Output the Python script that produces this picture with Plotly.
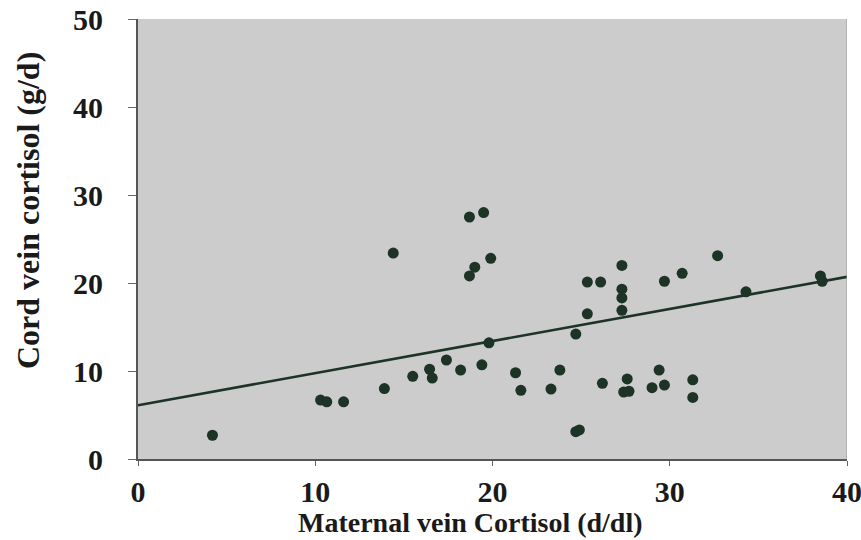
import plotly.graph_objects as go

# Scatter data
maternal = [4.2, 10.3, 10.65, 11.6, 13.9, 14.4, 15.5, 16.45, 16.6, 17.4, 18.2,
            18.7, 19.5, 18.7, 19.0, 19.9, 19.4, 19.8, 21.3, 21.6, 23.3, 23.8,
            24.7, 24.7, 24.9, 25.35, 25.35, 26.1, 26.2, 27.3, 27.3, 27.3, 27.3,
            27.6, 27.4, 27.7, 29.0, 29.4, 29.7, 29.7, 30.7, 31.3, 31.3, 32.7,
            34.3, 38.5, 38.6]
cord = [2.7, 6.7, 6.5, 6.5, 8.0, 23.4, 9.4, 10.2, 9.2, 11.25, 10.1,
        27.5, 28.0, 20.8, 21.8, 22.8, 10.7, 13.2, 9.8, 7.8, 7.95, 10.1,
        14.2, 3.1, 3.3, 16.5, 20.1, 20.1, 8.6, 22.0, 19.3, 18.3, 16.9,
        9.1, 7.6, 7.7, 8.1, 10.1, 8.4, 20.2, 21.1, 9.0, 7.0, 23.1,
        19.0, 20.8, 20.2]

# Regression line end points
fit_x = [0, 40]
fit_y = [6.1, 20.7]

x_ticks = [0, 10, 20, 30, 40]
y_ticks = [0, 10, 20, 30, 40, 50]

x_title = "Maternal vein Cortisol (d/dl)"
y_title = "Cord vein cortisol (g/d)"

ink = "#1c3326"
serif = "Liberation Serif"
text_col = "#1a1a1a"

W, H = 861, 540
L, T, R, B = 138, 19, 861 - 847, 540 - 459

fig = go.Figure()
fig.add_trace(go.Scatter(x=fit_x, y=fit_y, mode="lines",
                         line=dict(color=ink, width=2.6), showlegend=False,
                         cliponaxis=False))
fig.add_trace(go.Scatter(x=maternal, y=cord, mode="markers",
                         marker=dict(color=ink, size=11, symbol="circle"),
                         showlegend=False))

pw, ph = W - L - R, H - T - B

def px_x(p):
    return (p - L) / pw

def px_y(p):
    return (H - B - p) / ph

fig.update_layout(
    width=W, height=H,
    margin=dict(l=L, r=R, t=T, b=B),
    paper_bgcolor="white",
    plot_bgcolor="#cbcccb",
    xaxis=dict(range=[0, 40], tickvals=x_ticks, showgrid=False, zeroline=False,
               automargin=False, ticklabeloverflow="allow",
               showline=True, linecolor="#555", linewidth=2,
               ticks="outside", ticklen=5, tickcolor="#666",
               tickfont=dict(family=serif, size=30, color=text_col, weight="bold"),
               ticklabelstandoff=0),
    yaxis=dict(range=[0, 50], tickvals=y_ticks, showgrid=False, zeroline=False,
               automargin=False, ticklabeloverflow="allow",
               showline=True, linecolor="#555", linewidth=2,
               ticks="outside", ticklen=8, tickcolor="#666",
               tickfont=dict(family=serif, size=30, color=text_col, weight="bold"),
               ticklabelstandoff=19),
    annotations=[
        dict(text=x_title, xref="paper", yref="paper", x=px_x(470), y=px_y(522),
             xanchor="center", yanchor="middle", showarrow=False,
             font=dict(family=serif, size=28, color=text_col, weight="bold")),
        dict(text=y_title, xref="paper", yref="paper", x=px_x(28), y=px_y(211),
             xanchor="center", yanchor="middle", showarrow=False, textangle=-90,
             font=dict(family=serif, size=32, color=text_col, weight="bold")),
    ],
)
fig.add_shape(type="line", xref="x", yref="paper", x0=40, x1=40, y0=0, y1=1,
              line=dict(color="#999", width=1))

fig.write_html("out.html",
               config={"displayModeBar": False},
               post_script="document.body.style.margin='0';document.body.style.overflow='hidden';")
